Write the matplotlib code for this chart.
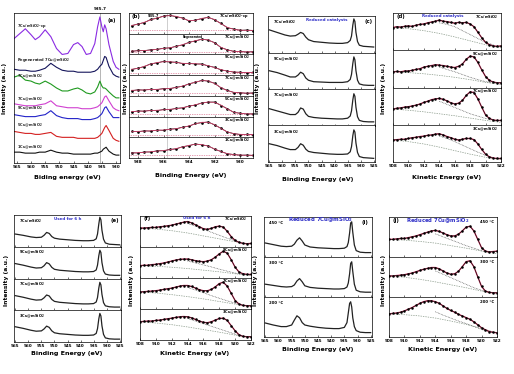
import matplotlib
matplotlib.use("Agg")
import matplotlib.pyplot as plt

W, H = 514, 374
plt.rcParams["font.family"] = ["DejaVu Sans"]
plt.rcParams["font.weight"] = "bold"
plt.rcParams["mathtext.default"] = "bf"

# ---------------- (a) Cu 2p, stacked offsets ----------------
a_be = [966, 964, 962, 960, 958.5, 957, 955, 953, 951, 949, 947, 945, 943.5, 942,
        940.5, 939, 937.5, 936.5, 935.7, 935, 934.5, 934, 933.5, 932.5, 931, 930, 929]
a_cp = [126, 131, 136, 130, 125, 128, 135, 128, 116, 110, 111, 120, 122, 118,
        110, 111, 121, 138, 148, 138, 133, 140, 136, 120, 103, 97, 95]
a_regen = [95, 94, 94, 93, 93, 94, 96, 101, 97, 94, 93, 93, 92, 92,
           92, 92, 93, 95, 98, 100, 104, 108, 107, 98, 90, 88, 87]
a_7cu_g = [87, 89, 84, 83, 81, 80, 83, 80, 76, 73, 73, 75, 76, 74,
           71, 70, 72, 77, 83, 78, 76, 76, 75, 72, 68, 66, 66]
a_7cu = [60, 59, 58, 58, 58, 59, 60, 63, 58, 57, 56, 56, 56, 55,
         55, 55, 56, 57, 59, 61, 64, 67, 68, 63, 56, 54, 53]
a_9cu = [49, 48, 47, 47, 47, 48, 49, 53, 48, 46, 45, 45, 45, 44,
         44, 44, 45, 46, 48, 50, 53, 56, 57, 52, 46, 46, 46]
a_5cu = [32, 31, 30, 30, 29, 29, 30, 31, 27, 26, 26, 26, 25, 25,
         25, 25, 25, 26, 28, 30, 33, 36, 38, 33, 25, 23, 22]
a_1cu = [11, 11, 10, 10, 10, 11, 11, 13, 11, 10, 10, 9, 9, 9,
         9, 9, 10, 10, 11, 12, 14, 15, 16, 12, 9, 8, 8]
a_names = ["7Cu/mSiO$_2$-cp", "Regenerated 7Cu@mSiO$_2$", "7Cu@mSiO$_2$", "7Cu@mSiO$_2$",
           "9Cu@mSiO$_2$", "5Cu@mSiO$_2$", "1Cu@mSiO$_2$"]
a_colors = ["#8a2be2", "#14145a", "#1f9a1f", "#d040d0", "#2222c8", "#d42020", "#111111"]

# ---------------- (b) Cu 2p3/2 fits ----------------
b_be = [938.5, 938, 937.5, 937, 936.5, 936, 935.5, 935, 934.5, 934,
        933.5, 933, 932.5, 932, 931.5, 931, 930.5, 930, 929.5, 929]
b_names = ["7Cu/mSiO$_2$-cp", "7Cu@mSiO$_2$", "9Cu@mSiO$_2$", "7Cu@mSiO$_2$",
           "5Cu@mSiO$_2$", "3Cu@mSiO$_2$", "1Cu@mSiO$_2$"]
b_fit1 = [0.42, 0.48, 0.58, 0.70, 0.80, 0.88, 0.92, 0.88, 0.78, 0.66, 0.68, 0.78, 0.82, 0.72, 0.50, 0.32, 0.22, 0.18, 0.17, 0.17]
b_dat1 = [0.40, 0.50, 0.56, 0.73, 0.78, 0.90, 0.93, 0.86, 0.80, 0.64, 0.70, 0.76, 0.84, 0.70, 0.52, 0.30, 0.24, 0.17, 0.19, 0.16]
b_fit2 = [0.17, 0.18, 0.20, 0.22, 0.26, 0.30, 0.34, 0.40, 0.50, 0.60, 0.70, 0.76, 0.74, 0.58, 0.36, 0.22, 0.16, 0.14, 0.13, 0.13]
b_dat2 = [0.15, 0.20, 0.19, 0.24, 0.25, 0.32, 0.33, 0.42, 0.48, 0.62, 0.68, 0.78, 0.72, 0.60, 0.34, 0.24, 0.15, 0.15, 0.12, 0.14]
b_fit3 = [0.30, 0.34, 0.45, 0.56, 0.64, 0.68, 0.68, 0.64, 0.60, 0.58, 0.58, 0.55, 0.48, 0.38, 0.28, 0.20, 0.16, 0.14, 0.13, 0.13]
b_dat3 = [0.28, 0.36, 0.43, 0.58, 0.62, 0.70, 0.66, 0.66, 0.58, 0.60, 0.56, 0.57, 0.46, 0.40, 0.26, 0.21, 0.15, 0.15, 0.12, 0.14]
b_fit4 = [0.28, 0.29, 0.30, 0.32, 0.33, 0.35, 0.38, 0.42, 0.50, 0.60, 0.70, 0.77, 0.76, 0.62, 0.42, 0.26, 0.18, 0.15, 0.14, 0.14]
b_dat4 = [0.26, 0.31, 0.29, 0.34, 0.32, 0.37, 0.36, 0.44, 0.48, 0.62, 0.68, 0.79, 0.74, 0.64, 0.40, 0.28, 0.17, 0.16, 0.13, 0.15]
b_fit5 = [0.25, 0.27, 0.28, 0.30, 0.32, 0.34, 0.37, 0.40, 0.45, 0.52, 0.60, 0.68, 0.74, 0.72, 0.58, 0.38, 0.22, 0.16, 0.14, 0.13]
b_dat5 = [0.23, 0.29, 0.27, 0.32, 0.30, 0.36, 0.35, 0.42, 0.44, 0.54, 0.58, 0.70, 0.73, 0.74, 0.56, 0.40, 0.21, 0.17, 0.13, 0.14]
b_fit6 = [0.28, 0.30, 0.31, 0.33, 0.35, 0.37, 0.40, 0.44, 0.50, 0.58, 0.68, 0.76, 0.76, 0.64, 0.44, 0.27, 0.18, 0.15, 0.14, 0.14]
b_dat6 = [0.30, 0.28, 0.33, 0.31, 0.37, 0.35, 0.42, 0.43, 0.52, 0.56, 0.70, 0.74, 0.78, 0.62, 0.46, 0.26, 0.19, 0.14, 0.15, 0.13]
b_fit7 = [0.25, 0.27, 0.29, 0.32, 0.35, 0.38, 0.42, 0.48, 0.56, 0.64, 0.70, 0.68, 0.60, 0.46, 0.32, 0.22, 0.17, 0.15, 0.14, 0.14]
b_dat7 = [0.27, 0.25, 0.31, 0.30, 0.37, 0.36, 0.44, 0.46, 0.58, 0.62, 0.72, 0.66, 0.62, 0.44, 0.33, 0.21, 0.18, 0.14, 0.15, 0.13]
b_base = [0.17, 0.13, 0.13, 0.14, 0.13, 0.14, 0.14]

# ---------------- (c), (e), (i) Cu 2p wide ----------------
w_be = [965, 962, 959, 957, 955, 954, 953, 952, 951, 950, 948, 945, 942, 939,
        937, 935, 934, 933.5, 933, 932.6, 932.2, 931.8, 931.2, 930.5, 929, 927, 925]
cu_names = ["7Cu/mSiO$_2$", "9Cu@mSiO$_2$", "7Cu@mSiO$_2$", "3Cu@mSiO$_2$"]
c1 = [0.62, 0.55, 0.48, 0.45, 0.46, 0.50, 0.55, 0.52, 0.42, 0.35, 0.30, 0.28, 0.26, 0.25, 0.25, 0.27, 0.33, 0.45, 0.75, 0.92, 0.85, 0.55, 0.30, 0.20, 0.17, 0.16, 0.15]
c2 = [0.50, 0.45, 0.38, 0.33, 0.33, 0.38, 0.46, 0.42, 0.30, 0.24, 0.20, 0.19, 0.18, 0.18, 0.18, 0.20, 0.26, 0.40, 0.70, 0.88, 0.80, 0.50, 0.24, 0.14, 0.11, 0.10, 0.10]
c3 = [0.46, 0.40, 0.34, 0.30, 0.30, 0.36, 0.48, 0.45, 0.32, 0.25, 0.22, 0.20, 0.19, 0.18, 0.18, 0.20, 0.26, 0.40, 0.70, 0.87, 0.80, 0.50, 0.24, 0.14, 0.11, 0.10, 0.10]
c4 = [0.50, 0.45, 0.38, 0.34, 0.34, 0.40, 0.50, 0.46, 0.35, 0.29, 0.26, 0.24, 0.22, 0.21, 0.21, 0.22, 0.28, 0.42, 0.72, 0.88, 0.82, 0.52, 0.26, 0.15, 0.12, 0.11, 0.10]
e1 = [0.40, 0.36, 0.31, 0.29, 0.30, 0.36, 0.45, 0.42, 0.32, 0.27, 0.24, 0.22, 0.20, 0.19, 0.19, 0.20, 0.25, 0.40, 0.72, 0.93, 0.85, 0.52, 0.24, 0.12, 0.08, 0.07, 0.06]
e2 = [0.47, 0.42, 0.36, 0.33, 0.34, 0.40, 0.50, 0.46, 0.35, 0.29, 0.26, 0.24, 0.22, 0.21, 0.21, 0.22, 0.27, 0.42, 0.72, 0.89, 0.82, 0.50, 0.24, 0.14, 0.11, 0.10, 0.10]
e3 = [0.46, 0.41, 0.35, 0.32, 0.33, 0.39, 0.48, 0.45, 0.34, 0.28, 0.25, 0.23, 0.21, 0.20, 0.20, 0.21, 0.26, 0.40, 0.70, 0.88, 0.80, 0.50, 0.24, 0.14, 0.11, 0.10, 0.10]
e4 = [0.48, 0.43, 0.37, 0.34, 0.35, 0.41, 0.50, 0.46, 0.35, 0.29, 0.26, 0.24, 0.22, 0.21, 0.21, 0.22, 0.27, 0.42, 0.73, 0.90, 0.82, 0.51, 0.24, 0.13, 0.10, 0.09, 0.09]
temps = ["450 °C", "300 °C", "200 °C"]
i1 = [0.35, 0.31, 0.27, 0.26, 0.27, 0.32, 0.42, 0.48, 0.40, 0.30, 0.25, 0.23, 0.22, 0.21, 0.21, 0.22, 0.26, 0.36, 0.60, 0.85, 0.88, 0.62, 0.30, 0.16, 0.12, 0.11, 0.11]
i2 = [0.32, 0.29, 0.26, 0.25, 0.26, 0.30, 0.40, 0.46, 0.38, 0.28, 0.24, 0.22, 0.21, 0.20, 0.20, 0.21, 0.25, 0.35, 0.58, 0.84, 0.88, 0.64, 0.32, 0.17, 0.13, 0.12, 0.12]
i3 = [0.35, 0.30, 0.26, 0.26, 0.30, 0.42, 0.53, 0.48, 0.36, 0.30, 0.27, 0.24, 0.22, 0.21, 0.21, 0.24, 0.36, 0.60, 0.84, 0.88, 0.75, 0.48, 0.26, 0.16, 0.12, 0.11, 0.11]

# ---------------- (d), (f), (j) Cu LMM ----------------
ke = [908, 908.5, 909, 909.5, 910, 910.5, 911, 911.5, 912, 912.5, 913, 913.5, 914, 914.5, 915,
      915.5, 916, 916.5, 917, 917.5, 918, 918.5, 919, 919.5, 920, 920.5, 921, 921.5, 922]
ke_base = [908, 910, 912, 914, 916, 918, 920, 922]
ke_comp = [914, 915, 916, 917, 918, 919, 920, 921]
d1 = [.58, .60, .59, .61, .62, .61, .64, .66, .67, .70, .72, .74, .77, .74, .73, .71, .69, .71, .70, .71, .67, .60, .46, .32, .20, .14, .11, .10, .11]
d2 = [.40, .41, .40, .42, .42, .44, .46, .48, .52, .54, .56, .58, .57, .56, .54, .52, .51, .54, .60, .72, .80, .78, .64, .45, .28, .18, .14, .12, .12]
d3 = [.40, .42, .43, .45, .46, .48, .50, .53, .57, .60, .64, .66, .67, .65, .61, .56, .53, .55, .62, .75, .84, .82, .66, .45, .25, .16, .12, .11, .11]
d4 = [.56, .57, .58, .58, .60, .62, .63, .65, .66, .68, .69, .71, .72, .69, .65, .62, .58, .56, .58, .60, .60, .57, .46, .32, .20, .13, .10, .09, .09]
d_base = [[.58, .55, .50, .43, .34, .24, .14, .06], [.40, .38, .35, .31, .26, .20, .13, .08],
          [.40, .37, .33, .28, .23, .17, .11, .06], [.56, .52, .46, .38, .29, .20, .12, .06]]
d_comp = [[.70, .66, .60, .50, .40, .30, .20, .14], [.52, .46, .40, .33, .26, .20, .15, .11],
          [.60, .52, .44, .36, .28, .22, .16, .12], [.66, .60, .52, .43, .34, .25, .17, .11]]
f1 = [.58, .58, .59, .60, .60, .62, .63, .65, .67, .70, .73, .76, .78, .74, .68, .62, .56, .54, .57, .62, .64, .61, .48, .32, .20, .14, .11, .10, .11]
f2 = [.38, .39, .39, .41, .42, .44, .46, .49, .52, .55, .57, .58, .58, .56, .53, .51, .50, .52, .56, .64, .74, .82, .76, .56, .33, .18, .13, .11, .11]
f3 = [.52, .53, .54, .55, .56, .58, .60, .62, .64, .67, .70, .72, .72, .69, .64, .59, .56, .56, .60, .68, .78, .82, .70, .48, .26, .15, .11, .10, .10]
f4 = [.56, .57, .58, .58, .60, .61, .63, .65, .67, .69, .71, .72, .71, .68, .63, .58, .54, .53, .56, .61, .66, .67, .60, .44, .28, .16, .11, .10, .10]
f_base = [[.58, .55, .50, .43, .34, .25, .16, .08], [.38, .36, .33, .29, .24, .19, .13, .07],
          [.52, .49, .44, .38, .31, .23, .15, .08], [.56, .52, .47, .40, .32, .24, .15, .08]]
f_comp = [[.72, .64, .55, .45, .36, .27, .19, .12], [.52, .46, .40, .34, .27, .21, .15, .11],
          [.66, .58, .50, .41, .33, .25, .18, .12], [.66, .58, .50, .42, .34, .26, .18, .12]]
j1 = [.42, .42, .43, .44, .44, .46, .48, .50, .53, .56, .59, .62, .63, .61, .57, .53, .50, .50, .54, .62, .71, .73, .62, .42, .22, .14, .12, .13, .14]
j2 = [.50, .50, .51, .52, .53, .55, .57, .60, .63, .66, .68, .70, .70, .67, .62, .57, .54, .55, .61, .72, .84, .86, .72, .48, .25, .14, .11, .10, .10]
j3 = [.55, .56, .57, .59, .62, .66, .70, .75, .80, .84, .86, .86, .84, .80, .74, .68, .63, .59, .54, .50, .46, .42, .36, .29, .22, .17, .13, .11, .10]
j_base = [[.42, .40, .37, .33, .27, .21, .14, .08], [.50, .47, .42, .36, .29, .22, .14, .07],
          [.55, .53, .50, .45, .38, .30, .20, .10]]
j_comp = [[.55, .48, .41, .34, .27, .21, .15, .11], [.62, .54, .46, .38, .30, .22, .16, .11],
          [.60, .52, .45, .38, .32, .25, .18, .12]]

BLUE = "#3030c8"
FIT = "#d0406a"


def px_axes(fig, l, t, r, b):
    return fig.add_axes([l / W, 1 - b / H, (r - l) / W, (b - t) / H])


def stack(fig, l, t, r, b, n):
    h = (b - t) / n
    return [px_axes(fig, l, t + k * h, r, t + (k + 1) * h) for k in range(n)]


def style(ax, xlim, ticks, bottom):
    ax.set_xlim(*xlim)
    ax.set_yticks([])
    ax.set_xticks(ticks)
    for s in ax.spines.values():
        s.set_linewidth(0.5)
    ax.tick_params(axis="x", direction="in", length=1.5, width=0.4, labelsize=3.0, pad=1.2)
    if not bottom:
        ax.tick_params(labelbottom=False)


def txt(fig, x, y, s, **kw):
    kw.setdefault("fontsize", 2.8)
    kw.setdefault("va", "center")
    fig.text(x / W, 1 - y / H, s, **kw)


def labels(fig, xc, xl_y, xlab, yl_x, yl_y):
    txt(fig, xc, xl_y, xlab, fontsize=4.6, ha="center")
    txt(fig, yl_x, yl_y, "Intensity (a.u.)", fontsize=4.3, ha="center", rotation=90)


fig = plt.figure(figsize=(W / 100, H / 100), dpi=100)
fig.patch.set_facecolor("white")

be_wide = [965, 960, 955, 950, 945, 940, 935, 930, 925]
ke_ticks = [908, 910, 912, 914, 916, 918, 920, 922]

# (a)
ax = px_axes(fig, 14, 13, 120, 163)
style(ax, (966, 928.6), [965, 960, 955, 950, 945, 940, 935, 930], True)
ax.set_ylim(0, 152)
ax.axvline(935.7, color="#999999", lw=0.5)
a_series = [a_cp, a_regen, a_7cu_g, a_7cu, a_9cu, a_5cu, a_1cu]
a_lab_y = [139, 104, 88, 65, 55, 38, 16]
for ys, c, name, ly in zip(a_series, a_colors, a_names, a_lab_y):
    ax.plot(a_be, ys, color=c, lw=0.8)
    ax.text(965, ly, name, fontsize=2.6, color="#222222", va="center")
ax.text(935.7, 154, "935.7", fontsize=3.0, ha="center", va="bottom")
ax.text(931.5, 144, "(a)", fontsize=3.8, ha="center", va="center")
labels(fig, 67, 178, "Biding energy (eV)", 5, 88)

# (b)
b_fits = [b_fit1, b_fit2, b_fit3, b_fit4, b_fit5, b_fit6, b_fit7]
b_dats = [b_dat1, b_dat2, b_dat3, b_dat4, b_dat5, b_dat6, b_dat7]
axs = stack(fig, 129, 13, 253, 158, 7)
for k, ax in enumerate(axs):
    style(ax, (938.7, 929), [938, 936, 934, 932, 930], k == 6)
    ax.set_ylim(0, 1.05)
    ax.axvline(935.7, color="#aaaaaa", lw=0.4)
    ax.axhline(b_base[k], color=FIT, lw=0.5, ls=(0, (1, 1.5)))
    ax.plot(b_be, b_dats[k], color="black", lw=0.5, marker="o", ms=0.9)
    ax.plot(b_be, b_fits[k], color=FIT, lw=0.6)
    ax.text(929.3, 0.88, b_names[k], fontsize=2.6, ha="right", va="center")
axs[1].text(932.9, 0.88, "Regenerated", fontsize=2.0, ha="right", va="center")
axs[0].text(938.5, 0.86, "(b)", fontsize=3.8, va="center")
axs[0].text(937.2, 0.88, "935.7", fontsize=2.6, va="center")
labels(fig, 191, 175, "Binding Energy (eV)", 125, 88)

# (c)
axs = stack(fig, 268, 16, 375, 162, 4)
for k, (ax, ys) in enumerate(zip(axs, [c1, c2, c3, c4])):
    style(ax, (965.5, 924.5), be_wide, k == 3)
    ax.set_ylim(0, 1)
    ax.plot(w_be, ys, color="#222222", lw=0.9)
    ax.text(963.5, 0.82, cu_names[k], fontsize=2.6, va="center")
axs[0].text(943, 0.9, "Reduced catalysts", fontsize=2.9, color=BLUE, ha="center", va="center")
axs[0].text(927, 0.85, "(c)", fontsize=3.8, ha="center", va="center")
labels(fig, 318, 179, "Binding Energy (eV)", 258, 88)


def lmm(ax, data, base, comp):
    ax.set_ylim(0, 0.95)
    ax.plot(ke_base, base, color="#8a9a8a", lw=0.5, ls=(0, (2, 1.5)))
    ax.plot(ke_comp, comp, color="#444444", lw=0.5, ls=(0, (1, 1.2)))
    ax.plot(ke, data, color=FIT, lw=1.0)
    ax.plot(ke, data, color="black", lw=0.4, marker="o", ms=0.8)


# (d)
axs = stack(fig, 393, 13, 501, 162, 4)
for k, (ax, ys) in enumerate(zip(axs, [d1, d2, d3, d4])):
    style(ax, (908, 922), ke_ticks, k == 3)
    lmm(ax, ys, d_base[k], d_comp[k])
    ax.text(921.6, 0.84, cu_names[k], fontsize=2.6, ha="right", va="center")
axs[0].text(908.4, 0.86, "(d)", fontsize=3.8, va="center")
axs[0].text(914.5, 0.88, "Reduced catalysts", fontsize=2.9, color=BLUE, ha="center", va="center")
labels(fig, 447, 178, "Kinetic Energy (eV)", 383, 88)

# (e)
axs = stack(fig, 14, 215, 121, 342, 4)
for k, (ax, ys) in enumerate(zip(axs, [e1, e2, e3, e4])):
    style(ax, (965.5, 924.5), be_wide, k == 3)
    ax.set_ylim(0, 1)
    ax.plot(w_be, ys, color="#222222", lw=0.9)
    ax.text(963.5, 0.82, cu_names[k], fontsize=2.6, va="center")
axs[0].text(945, 0.86, "Used for 6 h", fontsize=2.9, color=BLUE, ha="center", va="center")
axs[0].text(927, 0.84, "(e)", fontsize=3.8, ha="center", va="center")
labels(fig, 67, 354, "Binding Energy (eV)", 7, 280)

# (f)
axs = stack(fig, 140, 216, 251, 340, 4)
for k, (ax, ys) in enumerate(zip(axs, [f1, f2, f3, f4])):
    style(ax, (908, 922), ke_ticks, k == 3)
    lmm(ax, ys, f_base[k], f_comp[k])
    ax.text(921.6, 0.84, cu_names[k], fontsize=2.6, ha="right", va="center")
axs[0].text(908.4, 0.86, "(f)", fontsize=3.8, va="center")
axs[0].text(915.2, 0.88, "Used for 6 h", fontsize=2.9, color=BLUE, ha="center", va="center")
labels(fig, 195, 353, "Kinetic Energy (eV)", 131, 280)

# (i)
axs = stack(fig, 264, 217, 372, 337, 3)
for k, (ax, ys) in enumerate(zip(axs, [i1, i2, i3])):
    style(ax, (965.5, 924.5), be_wide, k == 2)
    ax.set_ylim(0, 1)
    ax.plot(w_be, ys, color="#222222", lw=0.9)
    ax.text(963.5, 0.84, temps[k], fontsize=2.8, va="center")
axs[0].text(944, 0.93, "Reduced 7Cu@mSiO$_2$", fontsize=3.9, color=BLUE, ha="center", va="center")
axs[0].text(927, 0.86, "(i)", fontsize=3.8, ha="center", va="center")
labels(fig, 318, 350, "Binding Energy (eV)", 256, 280)

# (j)
axs = stack(fig, 389, 217, 497, 337, 3)
for k, (ax, ys) in enumerate(zip(axs, [j1, j2, j3])):
    style(ax, (908, 922), ke_ticks, k == 2)
    lmm(ax, ys, j_base[k], j_comp[k])
    ax.text(921.6, 0.84, temps[k], fontsize=2.8, ha="right", va="center")
axs[0].text(908.4, 0.86, "(j)", fontsize=3.8, va="center")
axs[0].text(914.3, 0.87, "Reduced 7Cu@mSiO$_2$", fontsize=3.8, color=BLUE, ha="center", va="center")
labels(fig, 443, 350, "Kinetic Energy (eV)", 383, 280)

fig.savefig("out.png", dpi=100, facecolor="white")
